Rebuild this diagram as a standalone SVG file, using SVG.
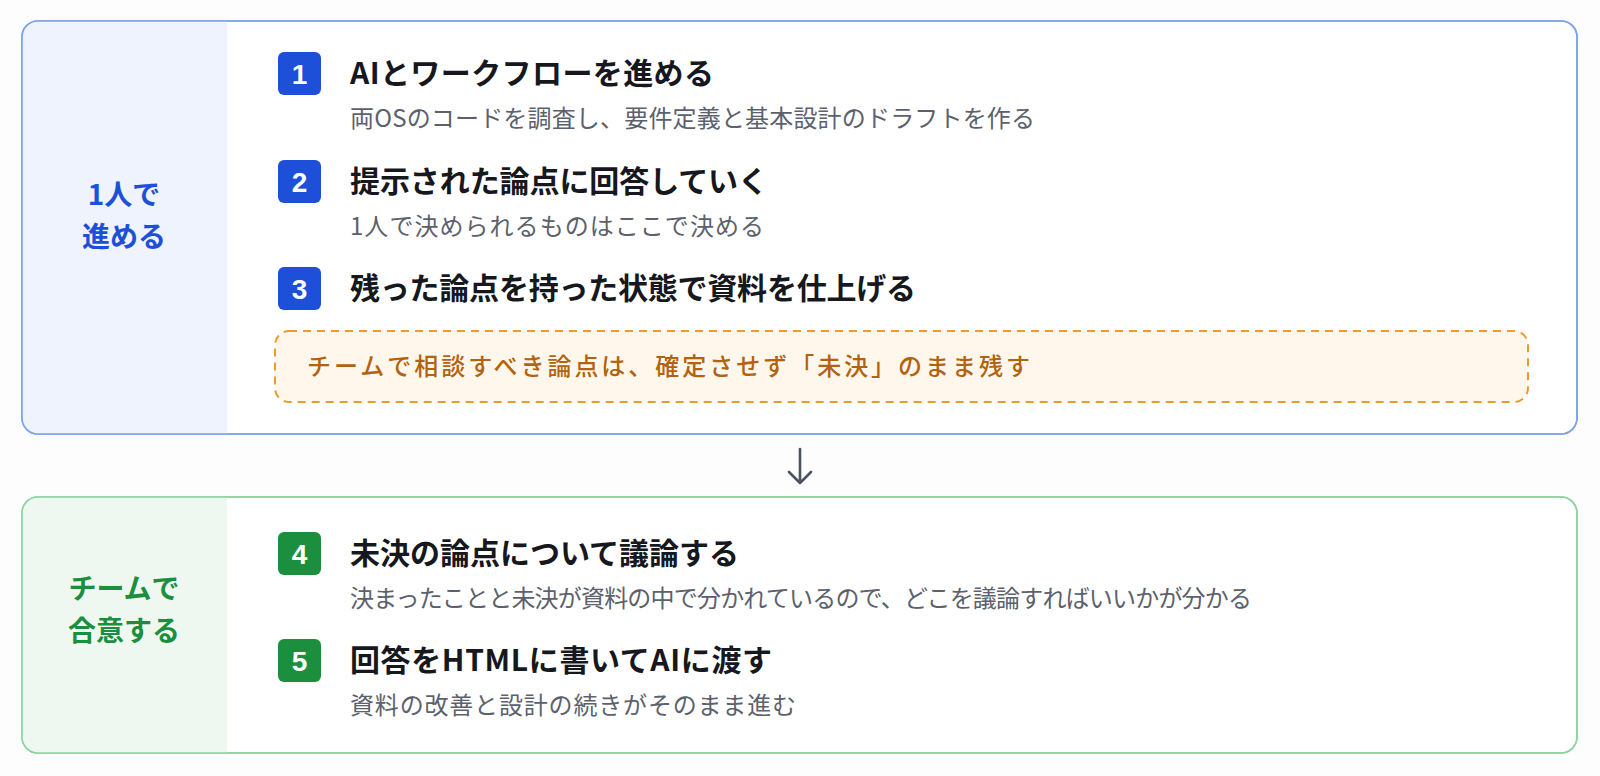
<svg xmlns="http://www.w3.org/2000/svg" width="1600" height="776" viewBox="0 0 1600 776">
<defs>
<style>
.bg{fill:#fdfdfd}
.panel-a{fill:#ffffff;stroke:#7ea2ec;stroke-width:1.6}
.panel-b{fill:#ffffff;stroke:#8dd3a3;stroke-width:1.6}
.band-a{fill:#eef3fd}
.band-b{fill:#eef8f1}
.lbl{font-family:"Noto Sans CJK JP","Noto Sans",sans-serif;font-weight:700;font-size:28px;text-anchor:middle}
.lbl-a{fill:#1d4fd8}
.lbl-b{fill:#1b8f3d}
.badge-a{fill:#1d4fd8}
.badge-b{fill:#1b8f3d}
.num{font-family:"Liberation Sans","Noto Sans",sans-serif;font-weight:700;font-size:28px;fill:#ffffff;text-anchor:middle}
.title{font-family:"Noto Sans CJK JP","Noto Sans",sans-serif;font-weight:700;font-size:30px;fill:#16181d}
.sub{font-family:"Noto Sans CJK JP","Noto Sans",sans-serif;font-weight:400;font-size:24px;fill:#5c616d}
.note-box{fill:#fff7eb;stroke:#ec9b33;stroke-width:2;stroke-dasharray:8 6}
.note{font-family:"Noto Sans CJK JP","Noto Sans",sans-serif;font-weight:500;font-size:24px;fill:#b3620d}
.conn{fill:none;stroke:#4b5261;stroke-width:2.6;stroke-linecap:round;stroke-linejoin:round}
</style>
<clipPath id="clipA"><rect x="22" y="21" width="1555" height="413" rx="16"/></clipPath>
<clipPath id="clipB"><rect x="22" y="497" width="1555" height="256" rx="16"/></clipPath>
</defs>
<rect class="bg" x="0" y="0" width="1600" height="776"/>

<g id="panel-solo">
<rect class="panel-a" x="22" y="21" width="1555" height="413" rx="16"/>
<rect class="band-a" x="22" y="21" width="205" height="413" clip-path="url(#clipA)"/>
<rect x="22" y="21" width="1555" height="413" rx="16" fill="none" stroke="#7ea2ec" stroke-width="1.6"/>
<text class="lbl lbl-a" x="124" y="205">1人で</text>
<text class="lbl lbl-a" x="124" y="247">進める</text>
</g>

<g id="step-1">
<rect class="badge-a" x="278" y="52" width="43" height="43" rx="6"/>
<text class="num" x="299.5" y="83.5">1</text>
<text class="title" x="350" y="84" textLength="364" lengthAdjust="spacing">AIとワークフローを進める</text>
<text class="sub" x="350" y="127" textLength="685" lengthAdjust="spacing">両OSのコードを調査し、要件定義と基本設計のドラフトを作る</text>
</g>

<g id="step-2">
<rect class="badge-a" x="278" y="160" width="43" height="43" rx="6"/>
<text class="num" x="299.5" y="191.5">2</text>
<text class="title" x="350" y="192" textLength="418" lengthAdjust="spacing">提示された論点に回答していく</text>
<text class="sub" x="350" y="235" textLength="414" lengthAdjust="spacing">1人で決められるものはここで決める</text>
</g>

<g id="step-3">
<rect class="badge-a" x="278" y="267" width="43" height="43" rx="6"/>
<text class="num" x="299.5" y="298.5">3</text>
<text class="title" x="350" y="299" textLength="566" lengthAdjust="spacing">残った論点を持った状態で資料を仕上げる</text>
</g>

<g id="note">
<rect class="note-box" x="275" y="331" width="1253" height="71" rx="14"/>
<text class="note" x="307" y="375" textLength="723" lengthAdjust="spacing">チームで相談すべき論点は、確定させず「未決」のまま残す</text>
</g>

<g id="panel-team">
<rect class="panel-b" x="22" y="497" width="1555" height="256" rx="16"/>
<rect class="band-b" x="22" y="497" width="205" height="256" clip-path="url(#clipB)"/>
<rect x="22" y="497" width="1555" height="256" rx="16" fill="none" stroke="#8dd3a3" stroke-width="1.6"/>
<text class="lbl lbl-b" x="124" y="599">チームで</text>
<text class="lbl lbl-b" x="124" y="641">合意する</text>
</g>

<g id="step-4">
<rect class="badge-b" x="278" y="532" width="43" height="43" rx="6"/>
<text class="num" x="299.5" y="563.5">4</text>
<text class="title" x="350" y="564" textLength="389" lengthAdjust="spacing">未決の論点について議論する</text>
<text class="sub" x="350" y="607" textLength="902" lengthAdjust="spacing">決まったことと未決が資料の中で分かれているので、どこを議論すればいいかが分かる</text>
</g>

<g id="step-5">
<rect class="badge-b" x="278" y="639" width="43" height="43" rx="6"/>
<text class="num" x="299.5" y="670.5">5</text>
<text class="title" x="350" y="671" textLength="422" lengthAdjust="spacing">回答をHTMLに書いてAIに渡す</text>
<text class="sub" x="350" y="714" textLength="446" lengthAdjust="spacing">資料の改善と設計の続きがそのまま進む</text>
</g>

<g id="connectors">
<path class="conn" d="M800 449 L800 483 M789 472 L800 483 L811 472"/>
</g>
</svg>
